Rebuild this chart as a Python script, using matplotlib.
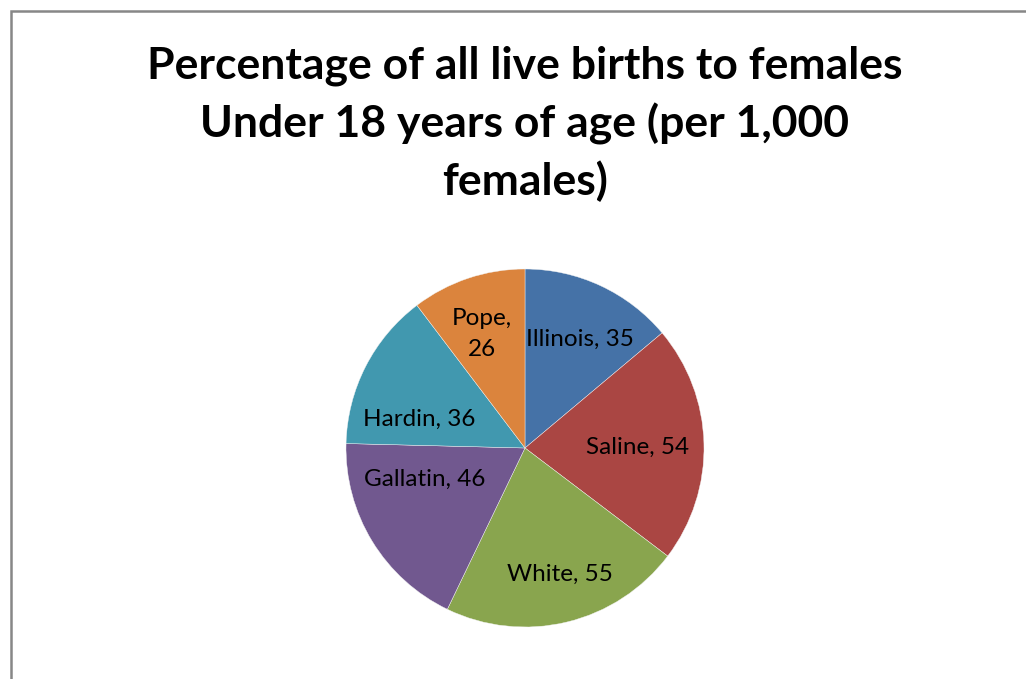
import matplotlib
matplotlib.use("Agg")
import matplotlib.pyplot as plt
from matplotlib.patches import Rectangle
import numpy as np

categories = ["Illinois", "Saline", "White", "Gallatin", "Hardin", "Pope"]
values = [35, 54, 55, 46, 36, 26]
colors = ["#4572A7", "#AA4643", "#89A54E", "#71588F", "#4198AF", "#DB843D"]
label_texts = ["Illinois, 35", "Saline, 54", "White, 55", "Gallatin, 46", "Hardin, 36", "Pope,\n26"]
# label placement tweaks (angle offset in degrees, radial fraction)
label_dtheta = [-2, -1, 2, -14, 12, 2]
label_r = [0.68, 0.63, 0.73, 0.59, 0.61, 0.68]

title = "Percentage of all live births to females\nUnder 18 years of age (per 1,000\nfemales)"

W, H = 1026, 679
fig = plt.figure(figsize=(W / 100, H / 100), dpi=100)
fig.patch.set_facecolor("white")

# chart border (cropped at right and bottom)
fig.add_artist(Rectangle((11 / W, -0.1), 1.2, (H - 11) / H + 0.1, transform=fig.transFigure,
                         fill=False, edgecolor="#878787", linewidth=1.8))

fig.text(525 / W, 1 - 124 / H, title, ha="center", va="center",
         fontsize=32, fontweight="bold", family="Lato", linespacing=1.46, color="black")

cx, cy, r = 525, 448, 179
ax = fig.add_axes([(cx - r) / W, (H - cy - r) / H, 2 * r / W, 2 * r / H])
wedges, _ = ax.pie(values, colors=colors, startangle=90, counterclock=False,
                   wedgeprops=dict(edgecolor="#f4f4f4", linewidth=0.3))
ax.set_xlim(-1, 1)
ax.set_ylim(-1, 1)
ax.set_aspect("equal")
ax.axis("off")

for w, txt, dt, rf in zip(wedges, label_texts, label_dtheta, label_r):
    mid = np.deg2rad((w.theta1 + w.theta2) / 2 + dt)
    ax.text(rf * np.cos(mid), rf * np.sin(mid), txt, ha="center", va="center",
            fontsize=17.5, family="Lato", color="black", linespacing=1.6)

fig.savefig("out.png", dpi=100)
